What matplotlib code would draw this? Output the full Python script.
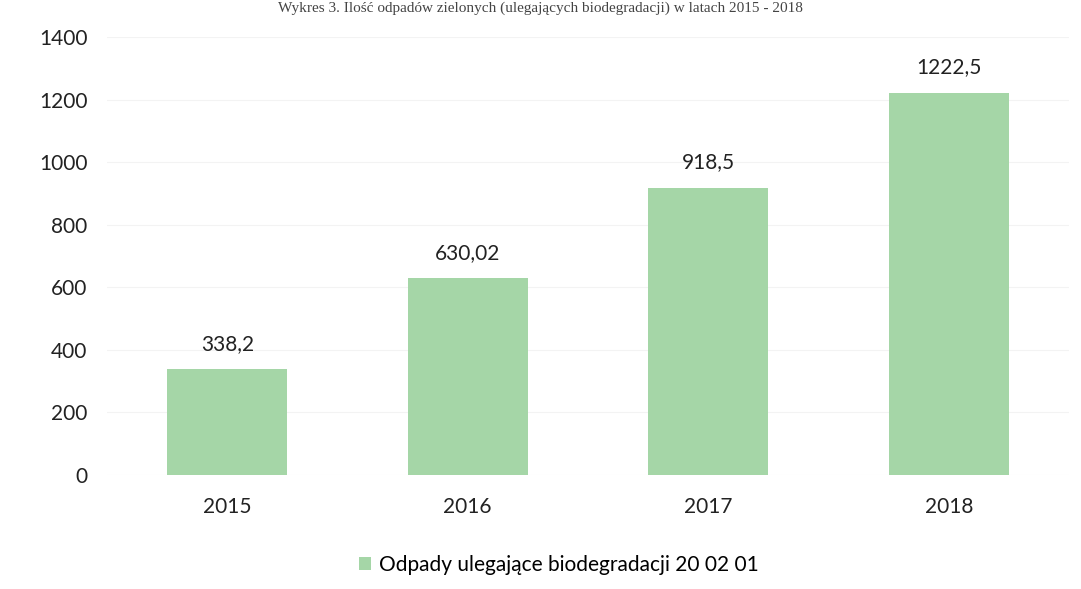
import matplotlib
matplotlib.use("Agg")
import matplotlib.pyplot as plt

# data
years = ["2015", "2016", "2017", "2018"]
values = [338.2, 630.02, 918.5, 1222.5]
value_labels = ["338,2", "630,02", "918,5", "1222,5"]
series_name = "Odpady ulegające biodegradacji 20 02 01"
y_ticks = [0, 200, 400, 600, 800, 1000, 1200, 1400]

plt.rcParams['font.family'] = ['Lato', 'DejaVu Sans']

fig = plt.figure(figsize=(10.81, 5.89), dpi=100)
ax = fig.add_axes([107 / 1081, 1 - 475 / 589, (1069 - 107) / 1081, (475 - 37) / 589])

bar_color = "#a5d6a7"
x = range(len(years))
bars = ax.bar(x, values, width=0.5, color=bar_color, label=series_name, zorder=2)

for rect, lab in zip(bars, value_labels):
    ax.annotate(lab, (rect.get_x() + rect.get_width() / 2, rect.get_height()),
                xytext=(0, 11), textcoords="offset points",
                ha="center", va="bottom", fontsize=15, color="#222222")

ax.set_xlim(-0.5, len(years) - 0.5)
ax.set_ylim(0, 1400)
ax.set_yticks(y_ticks)
ax.set_yticklabels([str(v) for v in y_ticks])
ax.set_xticks(list(x))
ax.set_xticklabels(years)
ax.tick_params(axis="both", length=0, labelsize=15, colors="#222222")
ax.tick_params(axis="y", pad=14)
ax.tick_params(axis="x", pad=16)
ax.grid(axis="y", color="#f3f3f3", linewidth=0.8, zorder=0)
for s in ax.spines.values():
    s.set_visible(False)

ax.legend(loc="center", bbox_to_anchor=(0.47, -0.205), frameon=False,
          fontsize=15, handlelength=0.55, handleheight=0.55, handletextpad=0.4)

# caption line from the source scan (partly cut in the original)
fig.text(0.5, 0.998, "Wykres 3. Ilość odpadów zielonych (ulegających biodegradacji) w latach 2015 - 2018",
         ha="center", va="top", fontsize=11, family="Liberation Serif", color="#444444")

fig.savefig("out.png", dpi=100)
